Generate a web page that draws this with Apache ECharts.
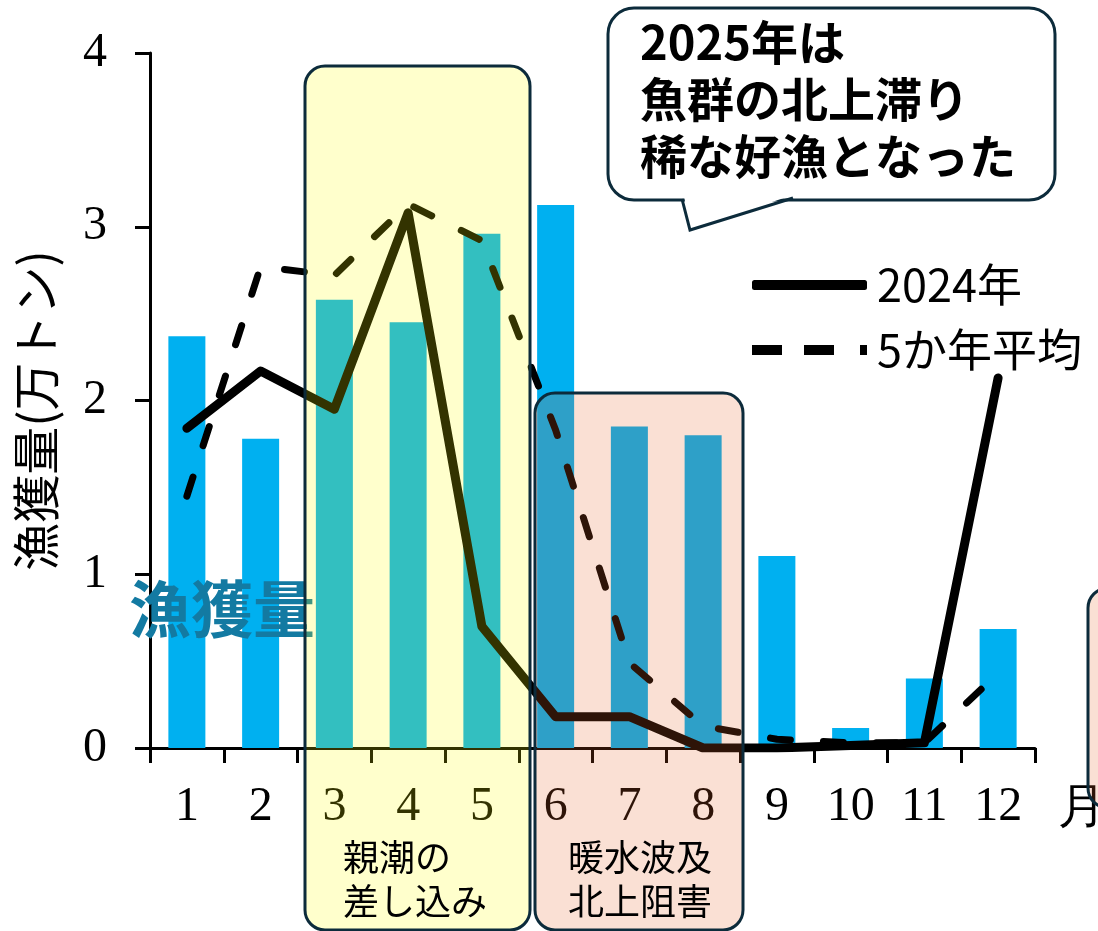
<!DOCTYPE html>
<html>
<head>
<meta charset="utf-8">
<script src="https://cdn.jsdelivr.net/npm/echarts@6/dist/echarts.min.js"></script>
<style>
  html, body { margin: 0; padding: 0; background: #fff; }
  #chart { width: 1098px; height: 931px; }
</style>
</head>
<body>
<div id="chart"></div>
<script>
// Monthly catch (10,000 t)
const months = ['1', '2', '3', '4', '5', '6', '7', '8', '9', '10', '11', '12'];
const catchVolume = [2.37, 1.78, 2.58, 2.45, 2.96, 3.125, 1.85, 1.80, 1.105, 0.115, 0.40, 0.685];
const catch2024 = [1.84, 2.17, 1.95, 3.08, 0.70, 0.18, 0.18, 0.0, 0.0, 0.015, 0.03, 2.13];
const fiveYearAvg = [1.45, 2.77, 2.72, 3.13, 2.92, 1.83, 0.49, 0.127, 0.05, 0.03, 0.03, 0.43];
const yTicks = [0, 1, 2, 3, 4];

const JP = '"Noto Sans CJK JP", "Noto Sans", sans-serif';
const SERIF = '"Liberation Serif", "Times New Roman", serif';
const NAVY = '#0c2b3b';

const chart = echarts.init(document.getElementById('chart'), null, { renderer: 'canvas' });

chart.setOption({
  animation: false,
  backgroundColor: '#ffffff',
  grid: { left: 150, right: 63, top: 53, bottom: 183, containLabel: false, outerBoundsMode: 'none' },
  legend: {
    orient: 'vertical',
    left: 747,
    top: 257,
    padding: 5,
    itemWidth: 115,
    itemHeight: 10,
    itemGap: 19,
    textStyle: { fontSize: 45, lineHeight: 46, color: '#000', fontFamily: JP, padding: [0, 0, 0, 5] },
    data: [
      { name: '2024年', icon: 'roundRect' },
      { name: '5か年平均', icon: 'path://M0,0H30V10H0Z M52,0H82V10H52Z M108,0H115V10H108Z' }
    ]
  },
  xAxis: {
    type: 'category',
    data: months,
    boundaryGap: true,
    name: '月',
    nameLocation: 'end',
    nameGap: 23,
    nameTextStyle: { fontSize: 48, color: '#000', fontFamily: SERIF, verticalAlign: 'top', padding: [37, 0, 0, 0] },
    axisLine: { show: true, lineStyle: { color: '#000', width: 3 } },
    axisTick: { show: true, alignWithLabel: false, length: 15, lineStyle: { color: '#000', width: 3 } },
    axisLabel: { fontSize: 48, color: '#000', fontFamily: SERIF, margin: 35, interval: 0 },
    splitLine: { show: false }
  },
  yAxis: {
    type: 'value',
    min: yTicks[0],
    max: yTicks[yTicks.length - 1],
    interval: 1,
    name: '漁獲量(万トン)',
    nameLocation: 'middle',
    nameRotate: 90,
    nameGap: 90,
    nameTextStyle: { fontSize: 48, color: '#000', fontFamily: JP, padding: [0, 20, 0, 0] },
    axisLine: { show: true, lineStyle: { color: '#000', width: 3 } },
    axisTick: { show: true, inside: false, length: 15, lineStyle: { color: '#000', width: 3 } },
    axisLabel: { fontSize: 48, color: '#000', fontFamily: SERIF, margin: 43 },
    splitLine: { show: false }
  },
  series: [
    {
      name: '漁獲量',
      type: 'bar',
      data: catchVolume,
      barWidth: 37,
      itemStyle: { color: '#00b0f0' },
      z: 2
    },
    {
      name: '5か年平均',
      type: 'line',
      data: fiveYearAvg,
      symbol: 'none',
      color: '#000',
      lineStyle: { color: '#000', width: 7, type: [20, 33], cap: 'round', join: 'round' },
      z: 3
    },
    {
      name: '2024年',
      type: 'line',
      data: catch2024,
      symbol: 'none',
      color: '#000',
      lineStyle: { color: '#000', width: 9, cap: 'round', join: 'round' },
      z: 4
    }
  ],
  graphic: [
    {
      type: 'text', z: 10,
      x: 222, y: 609,
      style: { text: '漁獲量', fill: '#137aa2', font: 'bold 62px ' + JP, textAlign: 'center', textVerticalAlign: 'middle' }
    },
    // Oyashio intrusion period (Mar-May)
    {
      type: 'rect', z: 50,
      shape: { x: 305, y: 66, width: 225, height: 864, r: 20 },
      style: { fill: 'rgba(255,255,0,0.2)', stroke: NAVY, lineWidth: 3 }
    },
    // Warm-water influence period (Jun-Aug)
    {
      type: 'rect', z: 50,
      shape: { x: 535, y: 393, width: 208, height: 537, r: 20 },
      style: { fill: 'rgba(230,100,40,0.2)', stroke: NAVY, lineWidth: 3 }
    },
    {
      type: 'rect', z: 50,
      shape: { x: 1088, y: 588, width: 80, height: 220, r: 20 },
      style: { fill: 'rgba(230,100,40,0.2)', stroke: NAVY, lineWidth: 3 }
    },
    {
      type: 'text', z: 60,
      x: 343, y: 835,
      style: { text: '親潮の\n差し込み', fill: '#000', font: '36px ' + JP, lineHeight: 44, textAlign: 'left', textVerticalAlign: 'top' }
    },
    {
      type: 'text', z: 60,
      x: 568, y: 835,
      style: { text: '暖水波及\n北上阻害', fill: '#000', font: '36px ' + JP, lineHeight: 44, textAlign: 'left', textVerticalAlign: 'top' }
    },
    // Callout bubble
    {
      type: 'rect', z: 70,
      shape: { x: 608, y: 8, width: 447, height: 192, r: 26 },
      style: { fill: '#fff', stroke: NAVY, lineWidth: 3 }
    },
    {
      type: 'polygon', z: 71,
      shape: { points: [[684, 196], [690, 229], [790, 196]] },
      style: { fill: '#fff' }
    },
    {
      type: 'polyline', z: 72,
      shape: { points: [[682, 199], [690, 230], [793, 198]] },
      style: { stroke: NAVY, lineWidth: 3, fill: null }
    },
    {
      type: 'text', z: 73,
      x: 640, y: 14,
      style: { text: '2025年は\n魚群の北上滞り\n稀な好漁となった', fill: '#000', font: 'bold 47px ' + JP, lineHeight: 57, textAlign: 'left', textVerticalAlign: 'top' }
    }
  ]
});
</script>
</body>
</html>
